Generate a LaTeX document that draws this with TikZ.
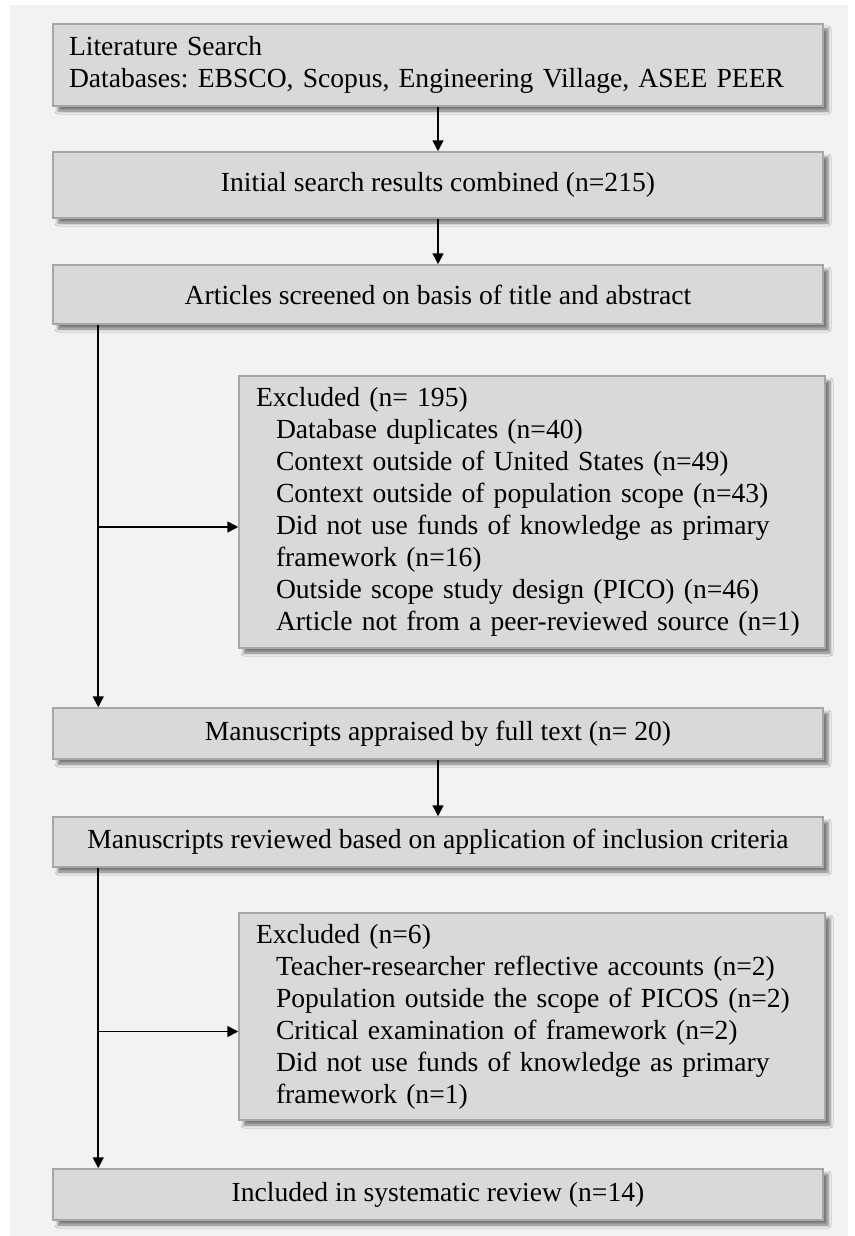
\documentclass[tikz,border=0pt]{standalone}
\usepackage{fontspec}
\setmainfont{Liberation Serif}
\usetikzlibrary{arrows.meta,shadows.blur}

\definecolor{panelgray}{HTML}{F2F2F2}
\definecolor{boxgray}{HTML}{D9D9D9}
\definecolor{edgegray}{HTML}{A6A6A6}
\newcommand{\exind}{\hspace*{20pt}}

\begin{document}
\frenchspacing
\begin{tikzpicture}[x=1pt,y=-1pt,
	stage/.style={draw=edgegray, line width=1.5pt, fill=boxgray,
		minimum width=770pt, inner sep=0pt, align=center,
		font=\fontsize{27.6}{32}\selectfont,
		blur shadow={shadow xshift=5pt, shadow yshift=-5pt,
			shadow blur radius=3pt, shadow opacity=50}},
	excl/.style={stage, minimum width=586pt, text width=552pt, align=left},
	flow/.style={-{Triangle[width=11pt,length=11pt]}, line width=1.6pt}]
	\useasboundingbox (0,0) rectangle (854,1236);
	\fill[white] (0,0) rectangle (854,1236);
	\fill[panelgray] (10,5) rectangle (848,1236);

	% main column
	\node[stage, minimum height=82pt, text width=738pt, align=left] (search) at (438,65)
		{Literature Search\\Databases: EBSCO, Scopus, Engineering Village, ASEE PEER};
	\node[stage, minimum height=66pt] (initial) at (438,185)
		{Initial search results combined (n=215)};
	\node[stage, minimum height=59pt] (screened) at (438,294.5)
		{Articles screened on basis of title and abstract};
	\node[stage, minimum height=51pt] (appraised) at (438,733.5)
		{Manuscripts appraised by full text (n= 20)};
	\node[stage, minimum height=50pt] (reviewed) at (438,842)
		{Manuscripts reviewed based on application of inclusion criteria};
	\node[stage, minimum height=51pt] (included) at (438,1194.5)
		{Included in systematic review (n=14)};

	% excluded boxes
	\node[excl, minimum height=272pt] (excl1) at (532,512)
		{Excluded (n= 195)\\
		\exind Database duplicates (n=40)\\
		\exind Context outside of United States (n=49)\\
		\exind Context outside of population scope (n=43)\\
		\exind Did not use funds of knowledge as primary\\
		\exind framework (n=16)\\
		\exind Outside scope study design (PICO) (n=46)\\
		\exind Article not from a peer-reviewed source (n=1)};
	\node[excl, minimum height=207pt] (excl2) at (532,1016.5)
		{Excluded (n=6)\\
		\exind Teacher-researcher reflective accounts (n=2)\\
		\exind Population outside the scope of PICOS (n=2)\\
		\exind Critical examination of framework (n=2)\\
		\exind Did not use funds of knowledge as primary\\
		\exind framework (n=1)};

	% straight arrows
	\draw[flow] (search) -- (initial);
	\draw[flow] (initial) -- (screened);
	\draw[flow] (appraised) -- (reviewed);

	% first exclusion
	\coordinate (trunkA) at ([xshift=46pt]screened.south west);
	\coordinate (inA) at ([yshift=-15pt]excl1.west);
	\draw[flow] (trunkA) -- (trunkA |- appraised.north);
	\draw[flow] (trunkA |- inA) -- (inA);

	% second exclusion
	\coordinate (trunkB) at ([xshift=46pt]reviewed.south west);
	\coordinate (inB) at ([yshift=-15pt]excl2.west);
	\draw[flow] (trunkB) -- (trunkB |- included.north);
	\draw[flow] (trunkB |- inB) -- (inB);

\end{tikzpicture}
\end{document}
